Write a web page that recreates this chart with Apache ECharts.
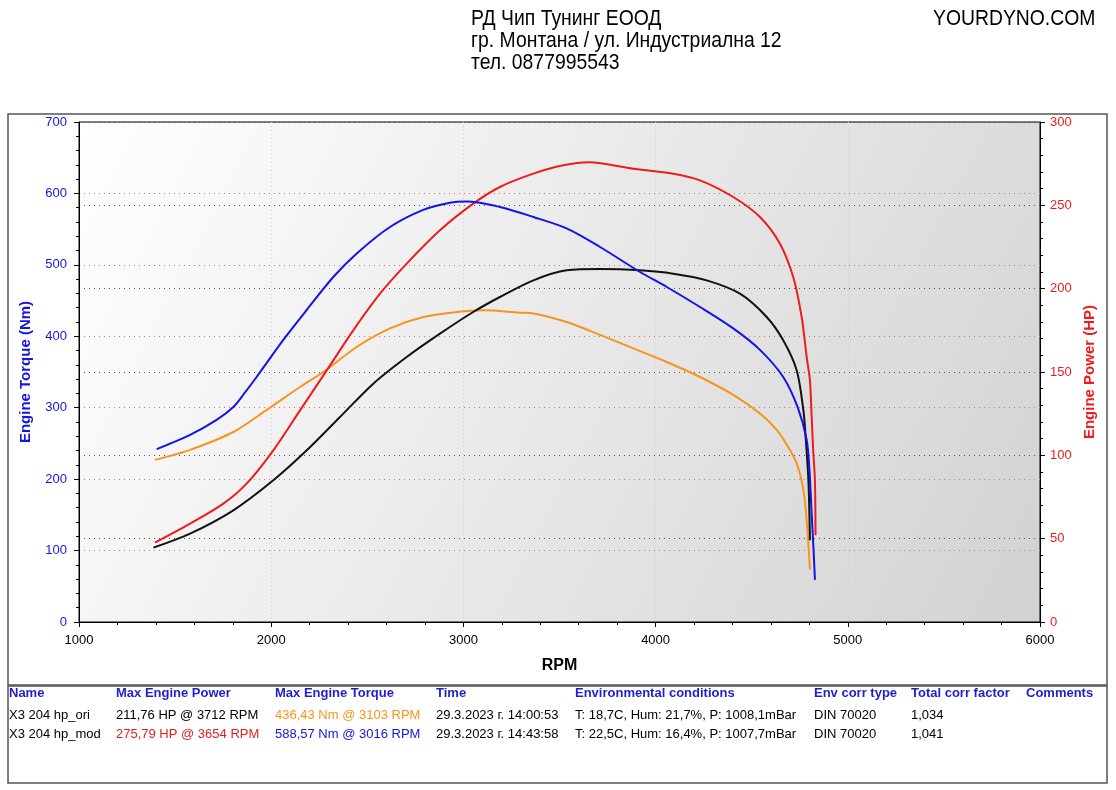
<!DOCTYPE html>
<html><head><meta charset="utf-8">
<script src="https://cdn.jsdelivr.net/npm/echarts@6/dist/echarts.min.js"></script>
<style>html,body{margin:0;padding:0;background:#fff;}#c{width:1116px;height:790px;}</style>
</head><body><div id="c"></div>
<script>
// ---- data ----
const modTorqueRpm = [1404,1578,1716,1803,1860,1924,2063,2185,2323,2445,2618,2791,2930,3016,3190,3364,3537,3711,3919,4058,4231,4404,4543,4664,4740,4786,4800,4812,4822,4829];
const modTorqueNm  = [242,262,283,301,320,343,395,437,483,516,553,577,587,588.6,581,567,551,525,490,469,441,411,381,343,300,255,215,152,100,59];
const oriTorqueRpm = [1395,1578,1803,1977,2150,2271,2445,2618,2791,2965,3103,3294,3364,3537,3711,3884,4058,4231,4404,4543,4630,4690,4734,4769,4786,4796,4803];
const oriTorqueNm  = [227,241,266,297,329,350,385,411,427,434,436.4,433,432,420,402,383,364,343,318,292,269,245,222,185,143,105,73];
const oriPowerRpm  = [1387,1578,1803,2011,2185,2358,2531,2705,2878,3051,3190,3364,3537,3712,3919,4092,4266,4439,4578,4664,4734,4769,4780,4795,4803];
const oriPowerHp   = [44.6,53,67,85,103,123,143,159,173,186,195,205,211,211.8,211,209,205,197,183,169,151,127,112,85,49];
const modPowerRpm  = [1395,1578,1751,1872,2011,2150,2289,2427,2566,2705,2878,3051,3190,3364,3520,3654,3884,4092,4231,4404,4543,4647,4716,4760,4786,4803,4812,4820,4829,4832];
const modPowerHp   = [47.6,59,71,83,103,127,151,175,197,215,235,251,261,269,274,275.8,272,269,265,255,243,227,207,183,159,145,123,103,85,52];

const headerLines = ['РД Чип Тунинг ЕООД','гр. Монтана / ул. Индустриална 12','тел. 0877995543'];
const siteText = 'YOURDYNO.COM';
const tableHeaders = ['Name','Max Engine Power','Max Engine Torque','Time','Environmental conditions','Env corr type','Total corr factor','Comments'];
const tableRow1 = ['X3 204 hp_ori','211,76 HP @ 3712 RPM','436,43 Nm @ 3103 RPM','29.3.2023 г. 14:00:53','T: 18,7C, Hum: 21,7%, P: 1008,1mBar','DIN 70020','1,034',''];
const tableRow2 = ['X3 204 hp_mod','275,79 HP @ 3654 RPM','588,57 Nm @ 3016 RPM','29.3.2023 г. 14:43:58','T: 22,5C, Hum: 16,4%, P: 1007,7mBar','DIN 70020','1,041',''];

// ---- styles ----
const BLUE = '#1414e6', RED = '#ee1c1c', ORANGE = '#f7941d', BLACK = '#111111';
const HBLUE = '#1f1fd0';
const FONT = 'Liberation Sans, Arial, sans-serif';
const colX = [9,116,275,436,575,814,911,1026];
const row1Colors = ['#000','#000',ORANGE,'#000','#000','#000','#000','#000'];
const row2Colors = ['#000',RED,BLUE,'#000','#000','#000','#000','#000'];

const zip = (a,b) => a.map((v,i)=>[v,b[i]]);

const graphics = [];
graphics.push({type:'rect', shape:{x:8,y:114,width:1099,height:571}, style:{fill:'none',stroke:'#555',lineWidth:1.5}, z:-10});
graphics.push({type:'rect', shape:{x:8,y:686,width:1099,height:97}, style:{fill:'none',stroke:'#555',lineWidth:1.5}, z:-10});
headerLines.forEach((t,i)=>graphics.push({type:'text', x:471, y:8+i*22, scaleX:0.88, style:{text:t, font:'22px '+FONT, fill:'#000'}}));
graphics.push({type:'text', x:933, y:8, scaleX:0.88, style:{text:siteText, font:'22px '+FONT, fill:'#000'}});
tableHeaders.forEach((t,i)=>graphics.push({type:'text', x:colX[i], y:687, style:{text:t, font:'bold 13px '+FONT, fill:HBLUE}}));
tableRow1.forEach((t,i)=>graphics.push({type:'text', x:colX[i], y:709, style:{text:t, font:'13px '+FONT, fill:row1Colors[i]}}));
tableRow2.forEach((t,i)=>graphics.push({type:'text', x:colX[i], y:728, style:{text:t, font:'13px '+FONT, fill:row2Colors[i]}}));

const lineSeries = (name, axis, xs, ys, color) => ({
  name, type:'line', yAxisIndex:axis, data:zip(xs,ys), showSymbol:false,
  smooth:0.3, lineStyle:{color,width:2}, itemStyle:{color}
});

const chart = echarts.init(document.getElementById('c'), null, {renderer:'canvas'});
chart.setOption({
  animation:false,
  backgroundColor:'#fff',
  textStyle:{fontFamily:FONT},
  grid:{left:79,right:76,top:122,bottom:168, show:true, borderColor:'#000', borderWidth:1,
    backgroundColor:new echarts.graphic.LinearGradient(0,0,1,1,[{offset:0,color:'#ffffff'},{offset:1,color:'#d2d2d2'}])},
  xAxis:[{
    type:'value', min:1000, max:6000, interval:1000,
    name:'RPM', nameLocation:'middle', nameGap:36,
    nameTextStyle:{fontSize:16,fontWeight:'bold',color:'#000'},
    axisLine:{lineStyle:{color:'#000'}},
    axisTick:{show:true,length:5,lineStyle:{color:'#000'}},
    minorTick:{show:true,splitNumber:5,length:3,lineStyle:{color:'#000'}},
    axisLabel:{color:'#000',fontSize:13,margin:12,formatter:v=>String(v)},
    splitLine:{show:true,lineStyle:{color:'#cccccc',type:[1,3],width:1}}
  },{
    type:'value', min:1000, max:6000, interval:1000, position:'top',
    axisLine:{lineStyle:{color:'#000'}},
    axisTick:{show:true,inside:true,length:5,lineStyle:{color:'#000'}},
    minorTick:{show:true,splitNumber:5,length:3,lineStyle:{color:'#000'}},
    axisLabel:{show:false}, splitLine:{show:false}
  }],
  yAxis:[{
    type:'value', min:0, max:700, interval:100, position:'left',
    name:'Engine Torque (Nm)', nameLocation:'middle', nameGap:46, nameRotate:90,
    nameTextStyle:{fontSize:15,fontWeight:'bold',color:BLUE},
    axisLine:{show:true,lineStyle:{color:'#000'}},
    axisTick:{show:true,length:5,lineStyle:{color:'#000'}},
    minorTick:{show:true,splitNumber:5,length:3,lineStyle:{color:'#000'}},
    axisLabel:{color:BLUE,fontSize:13,margin:12},
    splitLine:{show:true,lineStyle:{color:'#e07070',type:[1,4],width:1}}
  },{
    type:'value', min:0, max:300, interval:50, position:'right',
    name:'Engine Power (HP)', nameLocation:'middle', nameGap:40, nameRotate:90,
    nameTextStyle:{fontSize:15,fontWeight:'bold',color:RED},
    axisLine:{show:true,lineStyle:{color:'#000'}},
    axisTick:{show:true,length:5,lineStyle:{color:'#000'}},
    minorTick:{show:true,splitNumber:5,length:3,lineStyle:{color:'#000'}},
    axisLabel:{color:RED,fontSize:13,margin:10},
    splitLine:{show:true,lineStyle:{color:'#555',type:[1,4],width:1}}
  }],
  graphic:graphics,
  series:[
    lineSeries('ori torque', 0, oriTorqueRpm, oriTorqueNm, ORANGE),
    lineSeries('ori power', 1, oriPowerRpm, oriPowerHp, BLACK),
    lineSeries('mod power', 1, modPowerRpm, modPowerHp, RED),
    lineSeries('mod torque', 0, modTorqueRpm, modTorqueNm, BLUE)
  ]
});
</script></body></html>
